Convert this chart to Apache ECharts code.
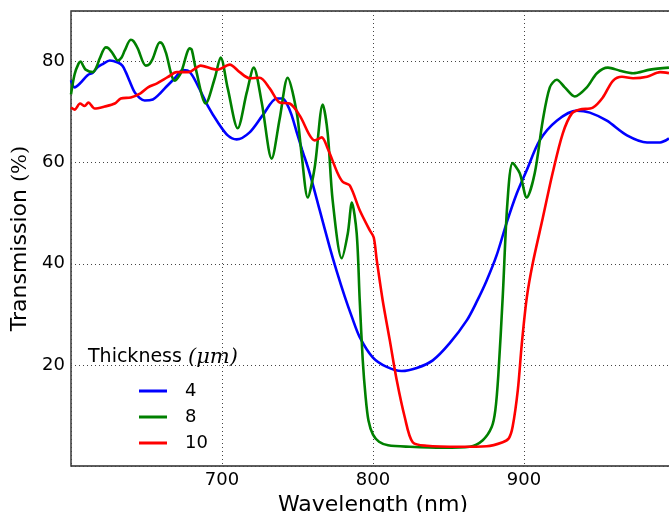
<!DOCTYPE html>
<html>
<head>
<meta charset="utf-8">
<script src="https://cdn.jsdelivr.net/npm/echarts@6/dist/echarts.min.js"></script>
<style>
  html, body { margin: 0; padding: 0; background: #fff; }
  #chart { width: 669px; height: 512px; }
</style>
</head>
<body>
<div id="chart"></div>
<script>
"use strict";
// transmission curves, [wavelength nm, transmission %]
var thick4 = [
    [600, 76.3], [602.4, 74.9], [606, 75.7], [611, 77.3], [614.4, 77.8], [617.7, 78.9], [621, 79.5],
    [625.7, 80.2], [631, 79.8], [634, 79.2], [636.3, 77.9], [639, 76.0], [642.2, 73.9], [645.5, 72.8],
    [648.8, 72.3], [654.2, 72.5], [658, 73.4], [662.1, 74.7], [668.7, 76.7], [674, 78.3], [678.7, 77.9],
    [683.9, 75.3], [690.5, 71.3], [697.2, 68], [703.8, 65.4], [709.7, 64.6], [718.3, 66], [727, 69.4],
    [736.2, 72.7], [740, 72.7], [742.9, 71.7], [746, 69.5], [749.5, 66], [753, 62.6], [758.1, 57.9],
    [764.7, 50.6], [771.3, 43.3], [776, 38.5], [781.3, 33.5], [786, 29.5], [791.2, 25.5], [799.8, 21.5],
    [809.1, 19.6], [819, 18.8], [829, 19.4], [839.6, 20.9], [850.8, 24.3], [862.1, 28.8], [868.7, 32.5],
    [875, 36.5], [881.9, 41.7], [888.6, 48.2], [895.2, 53.9], [901.8, 58.5], [910.4, 64.4], [921.7, 68.3],
    [935, 70.3], [943.6, 69.9], [954.9, 68.3], [968.2, 65.4], [981.5, 64], [990.1, 64], [996, 64.8]
];
var thick8 = [
    [600, 73.5], [602.4, 77.5], [605, 79.6], [606.4, 80], [608, 79.2], [609.7, 78.4], [614.4, 77.9],
    [617, 79], [619, 80.6], [623, 82.8], [625, 82.6], [627.6, 81.6], [631, 80.2], [633.5, 80.8],
    [635.6, 82.2], [639.6, 84.3], [641.5, 84], [644.2, 82.6], [649.5, 79.2], [652, 79.5], [654.2, 80.6],
    [658.8, 83.8], [660.5, 83.5], [662.8, 81.8], [668.7, 76.2], [672.7, 77.7], [678.7, 82.6], [680, 82.3],
    [682.6, 78.6], [689.2, 71.7], [695.2, 76.7], [699.1, 80.8], [703.8, 74.7], [710.4, 66.8], [716.4, 73.9],
    [721, 78.8], [726.3, 71.9], [732.9, 60.8], [738.2, 68.7], [743.5, 76.8], [749.5, 69.9], [752.8, 61.4],
    [756.8, 53.1], [761.4, 59.1], [766.7, 71.5], [770, 65.8], [773.3, 52.5], [779.3, 41.1], [783.3, 46],
    [786, 52.1], [789.2, 46], [791.2, 32.8], [793.2, 21], [795, 14], [797, 9], [800, 6.2], [804, 4.8],
    [810, 4.1], [824.3, 3.8], [846.2, 3.6], [864, 3.8], [872.7, 5.1], [878.6, 7.7], [881, 11], [883, 18],
    [886, 34], [889, 52], [892.5, 59.9], [897.2, 57.9], [901.8, 53.1], [907.1, 57.9], [912.4, 68.3],
    [917.1, 74.9], [921.7, 76.4], [927, 74.9], [933.6, 73.1], [941.6, 74.9], [948.3, 77.7], [955.6, 78.8],
    [963.5, 78.2], [972.2, 77.7], [983.5, 78.4], [996, 78.8]
];
var thick10 = [
    [600, 70.9], [602.4, 70.5], [606, 71.7], [609, 71.2], [611.5, 71.9], [615.7, 70.7], [622.3, 71.1],
    [629, 71.7], [633, 72.7], [639.6, 72.9], [646, 73.7], [651, 74.9], [657, 75.7], [664, 76.9],
    [670, 77.9], [678, 77.9], [685.9, 79.2], [693, 78.6], [697, 78.4], [705.1, 79.4], [711.7, 77.9],
    [718.3, 76.7], [725, 76.8], [731.6, 74.7], [738.2, 71.9], [744.8, 71.7], [751.5, 69.3], [758.1, 65.4],
    [761.4, 64.4], [766, 65], [770, 62.8], [776.6, 57.9], [780, 56.2], [784.6, 55.5], [791.2, 50.6],
    [797.9, 46.6], [800.5, 45.2], [802.5, 40.7], [806.4, 32.8], [811.1, 24.9], [815.7, 17], [821, 9.7],
    [826.3, 4.7], [835.6, 4], [857.5, 3.8], [875.3, 3.9], [885.9, 4.7], [890, 5.5], [892.5, 7.8],
    [895.9, 15], [898.5, 24], [901.8, 33.2], [905.8, 40.1], [912.4, 49], [919, 58], [925.7, 65.8],
    [931.6, 69.7], [937, 70.5], [945.6, 70.9], [952.2, 72.9], [958.9, 76.2], [964.9, 77], [972.2, 76.7],
    [981.5, 77], [990.1, 77.9], [996, 77.7]
];
var seriesNames = ["4", "8", "10"];
var xTickLabels = [700, 800, 900];
var yTickLabels = [20, 40, 60, 80];

var chart = echarts.init(document.getElementById("chart"));
var font = "DejaVu Sans";

function lineSeries(name, data, color) {
    return {
        name: name, type: "line", data: data, smooth: 0.3, symbol: "none",
        lineStyle: {color: color, width: 2.6}, itemStyle: {color: color}, z: 3
    };
}

var option = {
    backgroundColor: "#fff",
    animation: false,
    grid: {
        left: 71, top: 11, width: 604, height: 455, outerBoundsMode: "none", containLabel: false,
        show: true, borderColor: "#2a2a2a", borderWidth: 1.4, backgroundColor: "transparent"
    },
    xAxis: {
        type: "value", min: 600, max: 1000, interval: 100,
        name: "Wavelength (nm)", nameLocation: "middle", nameGap: 17,
        nameTextStyle: {fontFamily: font, fontSize: 22, color: "#000"},
        axisLine: {show: false}, axisTick: {show: false},
        axisLabel: {
            margin: 5, fontFamily: font, fontSize: 18, color: "#000",
            formatter: function (v) { return xTickLabels.indexOf(v) >= 0 ? String(v) : ""; }
        },
        splitLine: {show: true, lineStyle: {color: "#444", type: [1, 3], width: 1}}
    },
    yAxis: {
        type: "value", min: 0, max: 90, interval: 20,
        name: "{a|Transmission }{b|(%)}", nameLocation: "middle", nameGap: 30,
        nameTextStyle: {
            fontFamily: font, fontSize: 22, color: "#000",
            rich: {a: {fontFamily: font, fontSize: 22, color: "#000"}, b: {fontFamily: "DejaVu Serif", fontSize: 21, color: "#000"}}
        },
        axisLine: {show: false}, axisTick: {show: false},
        axisLabel: {
            margin: 6, fontFamily: font, fontSize: 18, color: "#000",
            formatter: function (v) { return yTickLabels.indexOf(v) >= 0 ? String(v) : ""; }
        },
        splitLine: {show: true, lineStyle: {color: "#444", type: [1, 3], width: 1}}
    },
    legend: {
        data: seriesNames, orient: "vertical", left: 134, top: 376,
        icon: "rect", itemWidth: 28, itemHeight: 3, itemGap: 6,
        textStyle: {fontFamily: font, fontSize: 18, color: "#000", lineHeight: 20, padding: [0, 0, 0, 13]}
    },
    graphic: [{
        type: "text", left: 88, top: 347, z: 10,
        style: {
            text: "{a|Thickness }{b|(μm)}",
            rich: {
                a: {fontFamily: font, fontSize: 19, fill: "#000"},
                b: {fontFamily: "DejaVu Serif", fontStyle: "italic", fontSize: 21, fill: "#000"}
            }
        }
    }],
    series: [
        lineSeries(seriesNames[0], thick4, "#0000ff"),
        lineSeries(seriesNames[1], thick8, "#008000"),
        lineSeries(seriesNames[2], thick10, "#ff0000")
    ]
};
chart.setOption(option);
</script>
</body>
</html>
